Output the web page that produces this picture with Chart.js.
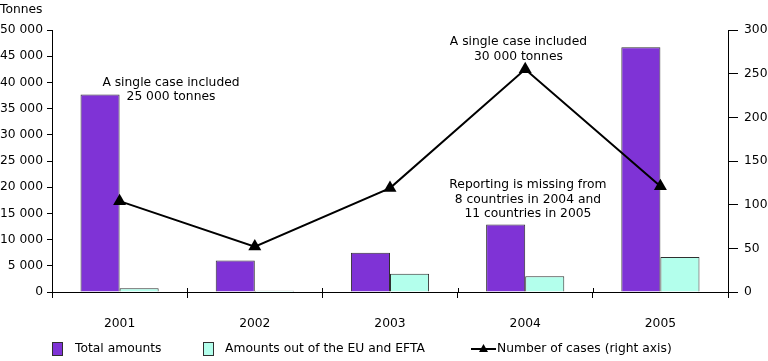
<!DOCTYPE html>
<html>
<head>
<meta charset="utf-8">
<script src="https://cdn.jsdelivr.net/npm/chart.js@4/dist/chart.umd.min.js"></script>
<style>
  html, body { margin: 0; padding: 0; background: #fff; }
  #wrap { position: relative; width: 768px; height: 361px; }
</style>
</head>
<body>
<div id="wrap"><canvas id="c" width="768" height="361"></canvas></div>
<script>
const years = ['2001', '2002', '2003', '2004', '2005'];
const totalAmounts = [37700, 6000, 7500, 12900, 46700];
const amountsOutEU = [700, 250, 3500, 3000, 6700];
const numberOfCases = [104, 52, 119, 255, 121];
const tonnesTicks = [0, 5000, 10000, 15000, 20000, 25000, 30000, 35000, 40000, 45000, 50000];
const casesTicks = [0, 50, 100, 150, 200, 250, 300];
const seriesNames = ['Total amounts', 'Amounts out of the EU and EFTA', 'Number of cases (right axis)'];
const notes = [
  { x: 0.38, y: 40000, lines: ['A single case included', '25 000 tonnes'] },
  { x: 2.95, y: 47700, lines: ['A single case included', '30 000 tonnes'] },
  { x: 3.02, y: 20450, lines: ['Reporting is missing from', '8 countries in 2004 and', '11 countries in 2005'] }
];

const FONT = '"DejaVu Sans", Verdana, sans-serif';
const FS = 12.3;
const PURPLE = '#7F33D6';
const CYAN = '#B3FFEC';
const EDGE = '#303030';

function fmt(v) { return String(v).replace(/\B(?=(\d{3})+(?!\d))/g, ' '); }

const extras = {
  id: 'extras',
  afterDatasetsDraw(chart) {
    const ctx = chart.ctx;
    const xs = chart.scales.x, ys = chart.scales.y;
    ctx.save();
    ctx.font = FS + 'px ' + FONT;
    ctx.fillStyle = '#000';
    ctx.textAlign = 'center';
    ctx.textBaseline = 'middle';
    notes.forEach(n => {
      const px = xs.getPixelForValue(n.x);
      const py = ys.getPixelForValue(n.y);
      n.lines.forEach((l, i) => ctx.fillText(l, px, py + i * 14.5));
    });
    // small tick marks above the x axis at category boundaries
    ctx.strokeStyle = '#000';
    ctx.lineWidth = 1;
    const b = chart.chartArea.bottom;
    for (let i = 0; i <= years.length; i++) {
      const px = Math.round(xs.getPixelForValue(i - 0.5)) + 0.5;
      ctx.beginPath(); ctx.moveTo(px, b - 4); ctx.lineTo(px, b); ctx.stroke();
    }
    ctx.restore();
  },
  afterDraw(chart) {
    const ctx = chart.ctx;
    ctx.save();
    ctx.font = FS + 'px ' + FONT;
    ctx.fillStyle = '#000';
    ctx.textAlign = 'left';
    ctx.textBaseline = 'middle';
    ctx.fillText('Tonnes', 0, 10);
    const ly = 349;
    // legend item 1
    ctx.fillStyle = PURPLE; ctx.strokeStyle = EDGE; ctx.lineWidth = 1;
    ctx.fillRect(52, ly - 7, 11, 14); ctx.strokeRect(52.5, ly - 6.5, 10, 13);
    ctx.fillStyle = '#000'; ctx.fillText(seriesNames[0], 75, ly);
    // legend item 2
    ctx.fillStyle = CYAN;
    ctx.fillRect(203, ly - 7, 11, 14); ctx.strokeRect(203.5, ly - 6.5, 10, 13);
    ctx.fillStyle = '#000'; ctx.fillText(seriesNames[1], 225, ly);
    // legend item 3
    ctx.strokeStyle = '#000'; ctx.lineWidth = 2;
    ctx.beginPath(); ctx.moveTo(471, ly); ctx.lineTo(496, ly); ctx.stroke();
    ctx.beginPath(); ctx.moveTo(483.5, ly - 5); ctx.lineTo(488, ly + 3); ctx.lineTo(479, ly + 3); ctx.closePath(); ctx.fill();
    ctx.fillText(seriesNames[2], 497, ly);
    ctx.restore();
  }
};

new Chart(document.getElementById('c'), {
  data: {
    labels: years,
    datasets: [
      { type: 'line', label: seriesNames[2], data: numberOfCases, yAxisID: 'y1', order: 0,
        borderColor: '#000', borderWidth: 2, backgroundColor: '#000',
        pointStyle: 'triangle', pointRadius: 7.5, pointHoverRadius: 7.5, pointBorderWidth: 0, tension: 0 },
      { type: 'bar', label: seriesNames[0], data: totalAmounts, yAxisID: 'y', order: 1,
        backgroundColor: PURPLE, borderColor: EDGE, borderWidth: 1,
        categoryPercentage: 0.578, barPercentage: 1 },
      { type: 'bar', label: seriesNames[1], data: amountsOutEU, yAxisID: 'y', order: 1,
        backgroundColor: CYAN, borderColor: EDGE, borderWidth: 1,
        categoryPercentage: 0.578, barPercentage: 1 }
    ]
  },
  options: {
    responsive: false,
    animation: false,
    layout: { padding: { top: 30, bottom: 0, left: 0, right: 0 } },
    plugins: { legend: { display: false }, tooltip: { enabled: false } },
    scales: {
      x: {
        offset: true,
        grid: { offset: true, drawOnChartArea: false, tickLength: 6, color: '#000' },
        border: { color: '#000', width: 1 },
        ticks: { color: '#000', font: { family: FONT, size: FS }, padding: 18, maxRotation: 0 },
        afterFit(s) { s.height = 69; }
      },
      y: {
        position: 'left', min: 0, max: 50000,
        afterBuildTicks(s) { s.ticks = tonnesTicks.map(v => ({ value: v })); },
        grid: { drawOnChartArea: false, tickLength: 5, color: '#000' },
        border: { color: '#000', width: 1 },
        ticks: { color: '#000', font: { family: FONT, size: FS }, padding: 4, callback: v => fmt(v) },
        afterFit(s) { s.width = 52; }
      },
      y1: {
        position: 'right', min: 0, max: 300,
        afterBuildTicks(s) { s.ticks = casesTicks.map(v => ({ value: v })); },
        grid: { drawOnChartArea: false, tickLength: 10, color: '#000' },
        border: { color: '#000', width: 1 },
        ticks: { color: '#000', font: { family: FONT, size: FS }, padding: 6 },
        afterFit(s) { s.width = 40; }
      }
    }
  },
  plugins: [extras]
});
</script>
</body>
</html>
